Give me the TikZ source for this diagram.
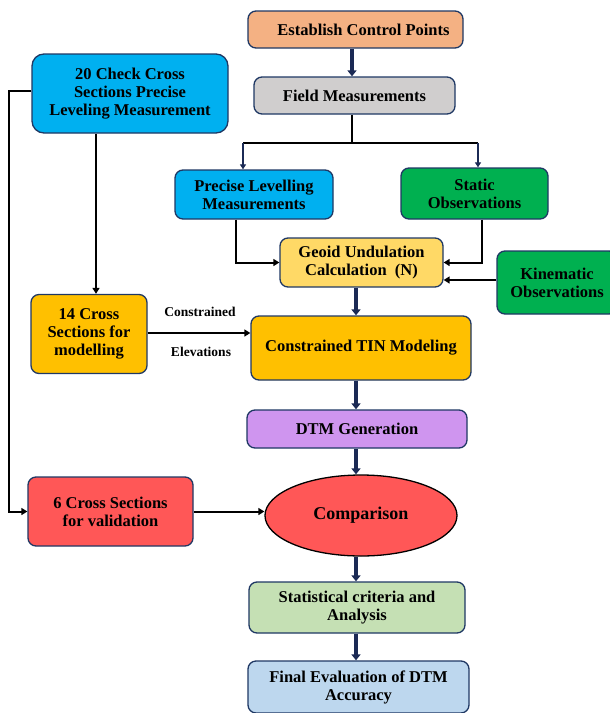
\documentclass[tikz,border=0pt]{standalone}
\usepackage{fontspec}
\setmainfont{Liberation Serif}
\usetikzlibrary{arrows.meta,shapes.geometric}
\definecolor{boxedge}{HTML}{1F3864}
\definecolor{navy}{HTML}{1B2A55}
\definecolor{cest}{HTML}{F4B183}
\definecolor{cfield}{HTML}{D0CECE}
\definecolor{cblue}{HTML}{00B0F0}
\definecolor{cgreen}{HTML}{00B050}
\definecolor{cgeoid}{HTML}{FFD966}
\definecolor{corange}{HTML}{FFC000}
\definecolor{cpurple}{HTML}{CF95EF}
\definecolor{cred}{HTML}{FF5757}
\definecolor{cstat}{HTML}{C5E0B4}
\definecolor{cfinal}{HTML}{BDD7EE}
\begin{document}
\begin{tikzpicture}[x=1pt,y=-1pt,
  box/.style={draw=boxedge, line width=1.3pt, rounded corners=8pt, align=center,
    inner sep=0pt, text=black, font=\fontsize{16.5}{18}\selectfont\bfseries},
  conn/.style={draw=black, line width=2pt},
  arr/.style={conn, -{Triangle[width=7pt,length=6pt]}},
  navyarr/.style={draw=navy, line width=3.8pt, -{Triangle[width=9pt,length=6pt]}},
  thinnavy/.style={draw=navy, line width=1.8pt, -{Triangle[width=6pt,length=5pt]}},
  lbl/.style={font=\fontsize{13.5}{15}\selectfont\bfseries, inner sep=0pt}
]
\useasboundingbox (0,0) rectangle (610,713);

% nodes
\node[box, fill=cest, minimum width=215pt, minimum height=37pt] (est) at (355.5,29.5) {\hspace{16pt}Establish Control Points};
\node[box, fill=cfield, minimum width=201pt, minimum height=37pt] (field) at (354.5,95.5) {Field Measurements};
\node[box, fill=cblue, rounded corners=12pt, minimum width=196pt, minimum height=79pt] (chk) at (130,93.5) {20 Check Cross\\Sections Precise\\Leveling Measurement};
\node[box, fill=cblue, minimum width=158pt, minimum height=49pt] (prec) at (254,194.5) {Precise Levelling\\Measurements};
\node[box, fill=cgreen, minimum width=147pt, minimum height=51pt] (stat) at (474.5,193.5) {Static\\Observations};
\node[box, fill=cgeoid, minimum width=163pt, minimum height=49pt] (geoid) at (361.5,262.5) {Geoid Undulation\\Calculation~ (N)};
\node[box, fill=cgreen, minimum width=120pt, minimum height=63pt] (kin) at (557,282.5) {Kinematic\\Observations};
\node[box, fill=corange, minimum width=116pt, minimum height=79pt] (c14) at (89,334) {14 Cross\\Sections for\\modelling};
\node[box, fill=corange, minimum width=220pt, minimum height=64pt] (tin) at (361,348) {Constrained TIN Modeling};
\node[box, fill=cpurple, minimum width=220pt, minimum height=38pt] (dtm) at (357,429) {DTM Generation};
\node[ellipse, draw=black, line width=1.3pt, fill=cred, minimum width=192pt, minimum height=81pt,
  inner sep=0pt, font=\fontsize{18}{20}\selectfont\bfseries] (cmp) at (361,515.5) {Comparison};
\node[box, fill=cred, minimum width=165pt, minimum height=69pt] (c6) at (110.5,511.5) {6 Cross Sections\\for validation};
\node[box, fill=cstat, minimum width=216pt, minimum height=51pt] (stc) at (357,607.5) {Statistical criteria and\\Analysis};
\node[box, fill=cfinal, minimum width=221pt, minimum height=52pt] (fin) at (358.5,687) {Final Evaluation of DTM\\Accuracy};

\node[lbl] (lc) at (200,312) {Constrained};
\node[lbl] (le) at (201,351.5) {Elevations};

% helper coordinates
\coordinate (vx) at (356,0);
\coordinate (ex) at (352,0);
\coordinate (sp) at (243,143);
\coordinate (ss) at (478,143);
\coordinate (pgx) at (236,0);
\coordinate (sgx) at (482,0);
\coordinate (chx) at (96,0);

% connectors
\draw[navyarr] (est.south -| ex) -- (field.north -| ex);
\draw[conn] (field.south -| ex) -- (sp -| ex);
\draw[conn] (sp) -- (ss);
\draw[thinnavy] (sp) -- (sp |- prec.north);
\draw[thinnavy] (ss) -- (ss |- stat.north);
\draw[arr] (prec.south -| pgx) |- (geoid.west);
\draw[arr] (stat.south -| sgx) |- (geoid.east);
\draw[arr] (kin.west |- 0,280) -- (geoid.east |- 0,280);
\draw[navyarr] (geoid.south -| vx) -- (tin.north -| vx);
\draw[navyarr] (tin.south -| vx) -- (dtm.north -| vx);
\draw[navyarr] (dtm.south -| vx) -- (cmp.north -| vx);
\draw[navyarr] (cmp.south -| vx) -- (stc.north -| vx);
\draw[navyarr] (stc.south -| vx) -- (fin.north -| vx);
\draw[arr] (chk.south -| chx) -- (c14.north -| chx);
\draw[arr] (c14.east |- 0,333) -- (tin.west |- 0,333);
\draw[arr] (chk.west |- 0,91) -- ++(-22,0) |- (c6.west);
\draw[arr] (c6.east) -- (c6.east -| cmp.west);
\end{tikzpicture}
\end{document}
